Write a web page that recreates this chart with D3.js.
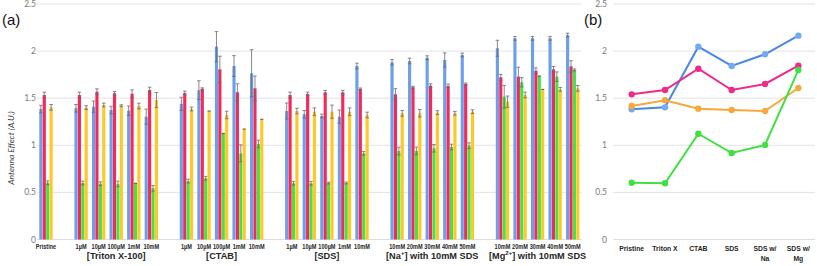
<!DOCTYPE html>
<html><head><meta charset="utf-8">
<script src="https://cdn.jsdelivr.net/npm/d3@7"></script>
<style>body{margin:0;background:#fff}svg{display:block}</style>
</head><body>
<script>
// ---------- Data (panel a) ----------
const sectionNames = ["", "[Triton X-100]", "[CTAB]", "[SDS]", "[Na+] with 10mM SDS", "[Mg2+] with 10mM SDS"];
const sectionCats = [
  ["Pristine"],
  ["1µM","10µM","100µM","1mM","10mM"],
  ["1µM","10µM","100µM","1mM","10mM"],
  ["1µM","10µM","100µM","1mM","10mM"],
  ["10mM","20mM","30mM","40mM","50mM"],
  ["10mM","20mM","30mM","40mM","50mM"]
];
const seriesNames = ["blue","red","green","yellow"];
const blueVals   = [1.385, 1.393,1.41,1.375,1.367,1.304, 1.44,1.585,2.047,1.842,1.764, 1.364,1.329,1.311,1.304,1.842, 1.881,1.895,1.93,1.906,1.959, 2.03,2.136,2.136,2.136,2.17];
const blueErr    = [0.04, 0.04,0.06,0.04,0.05,0.08, 0.07,0.10,0.16,0.11,0.25, 0.085,0.04,0.02,0.07,0.03, 0.03,0.03,0.02,0.075,0.02, 0.085,0.02,0.02,0.02,0.02];
const redVals    = [1.534, 1.534,1.569,1.552,1.548,1.587, 1.555,1.6,1.806,1.563,1.605, 1.534,1.545,1.563,1.563,1.598, 1.541,1.616,1.633,1.63,1.651, 1.722,1.729,1.792,1.806,1.838];
const redErr     = [0.03, 0.03,0.03,0.02,0.04,0.03, 0.02,0.01,0.14,0.09,0.13, 0.03,0.02,0.02,0.02,0.01, 0.06,0.01,0.02,0.02,0.01, 0.03,0.10,0.03,0.03,0.06];
const greenVals  = [0.603, 0.6,0.592,0.59,0.597,0.543, 0.62,0.65,1.127,0.915,1.014, 0.597,0.597,0.6,0.6,0.915, 0.94,0.94,0.968,0.982,0.996, 1.516,1.669,1.736,1.729,1.80];
const greenErr   = [0.02, 0.02,0.02,0.03,0,0.03, 0.02,0.02,0,0.09,0.04, 0.02,0.02,0.01,0.01,0.02, 0.04,0.04,0.04,0.03,0.03, 0.12,0.05,0,0.05,0.01];
const yellowVals = [1.403, 1.40,1.428,1.42,1.417,1.48, 1.385,1.364,1.322,1.173,1.276, 1.364,1.357,1.357,1.357,1.322, 1.34,1.34,1.347,1.34,1.357, 1.463,1.534,1.594,1.594,1.605];
const yellowErr  = [0.03, 0.02,0.02,0.01,0.03,0.08, 0.02,0,0.04,0,0, 0.03,0.04,0.07,0.04,0.03, 0.03,0.04,0.02,0.02,0.02, 0.06,0.03,0,0.02,0.03];
const yTicks = [0, 0.5, 1, 1.5, 2, 2.5];
const yTickLabels = ["0","0.5","1","1.5","2","2.5"];

// ---------- Data (panel b) ----------
const lineCats = [["Pristine"],["Triton X"],["CTAB"],["SDS"],["SDS w/","Na"],["SDS w/","Mg"]];
const lineBlue   = [1.382,1.403,2.047,1.842,1.966,2.164];
const linePink   = [1.541,1.587,1.813,1.587,1.651,1.845];
const lineOrange = [1.417,1.478,1.389,1.375,1.364,1.608];
const lineGreen  = [0.603,0.597,1.123,0.918,1.003,1.799];

// ---------- Build ----------
const W = 817, H = 266;
const svg = d3.select("body").append("svg").attr("width", W).attr("height", H);
const barColors = {blue:"#6d9eeb", red:"#f2295b", green:"#44e344", yellow:"#ffc825"};
const vals = {blue:blueVals, red:redVals, green:greenVals, yellow:yellowVals};
const errs = {blue:blueErr, red:redErr, green:greenErr, yellow:yellowErr};

const slots = [];
let di = 0;
sectionCats.forEach((cats, s) => {
  if (s > 0) slots.push({key:"gap"+s, blank:true});
  cats.forEach((c, j) => { slots.push({key:"s"+s+"c"+j, label:c, section:s, di:di++}); });
});

const y = d3.scaleLinear().domain([0, 2.5]).range([239.5, 4]);
const x0 = d3.scaleBand().domain(slots.map(d => d.key)).range([37.2, 581.5]).padding(0);
const x1 = d3.scaleBand().domain(seriesNames).range([0, x0.bandwidth()]).paddingInner(0.08).paddingOuter(0.62);

const font = "Lato, 'Liberation Sans', Arial, sans-serif";
const boldFont = "'Liberation Sans', Arial, sans-serif";

const ga = svg.append("g");
ga.selectAll("line.grid").data(yTicks).join("line")
  .attr("x1", 37).attr("x2", 581.5)
  .attr("y1", d => y(d)).attr("y2", d => y(d))
  .attr("stroke", d => d === 0 ? "#e6d9dc" : "#e3e3e3").attr("stroke-width", 1);
ga.selectAll("text.tick").data(yTicks).join("text")
  .attr("x", 36).attr("y", d => y(d) + 3)
  .attr("text-anchor", "end").attr("font-family", font).attr("font-size", 8.5)
  .attr("fill", "#7a7a7a").text((d, i) => yTickLabels[i]);

const dataSlots = slots.filter(d => !d.blank);
const gBars = svg.append("g");
dataSlots.forEach(sl => {
  seriesNames.forEach(sn => {
    const v = vals[sn][sl.di], e = errs[sn][sl.di];
    const bx = x0(sl.key) + x1(sn), bw = x1.bandwidth();
    gBars.append("rect").attr("x", bx).attr("y", y(v)).attr("width", bw).attr("height", y(0) - y(v))
      .attr("fill", barColors[sn]);
    const cx = bx + bw / 2;
    if (e > 0) {
      gBars.append("line").attr("x1", cx).attr("x2", cx).attr("y1", y(v + e)).attr("y2", y(v - e))
        .attr("stroke", "#6b6b6b").attr("stroke-width", 0.8);
      [v + e, v - e].forEach(t => gBars.append("line").attr("x1", cx - 1.8).attr("x2", cx + 1.8)
        .attr("y1", y(t)).attr("y2", y(t)).attr("stroke", "#6b6b6b").attr("stroke-width", 0.8));
    } else {
      gBars.append("line").attr("x1", bx).attr("x2", bx + bw).attr("y1", y(v)).attr("y2", y(v))
        .attr("stroke", "#333").attr("stroke-width", 0.8);
    }
  });
});

// category labels (condensed)
svg.append("g").selectAll("text").data(dataSlots).join("text")
  .attr("transform", d => `translate(${x0(d.key) + x0.bandwidth() / 2},249) scale(0.8,1)`)
  .attr("text-anchor", "middle").attr("font-family", boldFont)
  .attr("font-weight", "bold").attr("font-size", 7).attr("fill", "#262626")
  .text(d => d.label);

sectionNames.forEach((name, s) => {
  if (!name) return;
  const ss = dataSlots.filter(d => d.section === s);
  const cx = (x0(ss[0].key) + x0(ss[ss.length - 1].key) + x0.bandwidth()) / 2;
  const t = svg.append("text").attr("x", cx).attr("y", 258.5).attr("text-anchor", "middle")
    .attr("font-family", boldFont).attr("font-weight", "bold")
    .attr("font-size", 9.2).attr("fill", "#262626");
  const m = name.match(/^\[(Na|Mg)(2\+|\+)\](.*)$/);
  if (m) {
    t.append("tspan").text("[" + m[1]);
    t.append("tspan").attr("font-size", 6).attr("dy", -3.5).text(m[2]);
    t.append("tspan").attr("dy", 3.5).text("]" + m[3]);
  } else t.text(name);
});

svg.append("text").attr("transform", "translate(14,148) rotate(-90)")
  .attr("text-anchor", "middle").attr("font-family", font).attr("font-style", "italic")
  .attr("font-size", 8.5).attr("fill", "#404040").text("Antenna Effect (A.U.)");

svg.append("text").attr("x", 2).attr("y", 25).attr("font-family", boldFont)
  .attr("font-size", 15).attr("fill", "#111").text("(a)");
svg.append("text").attr("x", 584).attr("y", 25).attr("font-family", boldFont)
  .attr("font-size", 15).attr("fill", "#111").text("(b)");

// ---------- Panel b ----------
const xb = d3.scalePoint().domain(lineCats.map((d, i) => i)).range([615, 815]).padding(0.5);
const gb = svg.append("g");
gb.selectAll("line").data(yTicks).join("line")
  .attr("x1", 613).attr("x2", 815).attr("y1", d => y(d)).attr("y2", d => y(d))
  .attr("stroke", d => d === 0 ? "#e6d9dc" : "#e3e3e3");
gb.selectAll("text").data(yTicks).join("text")
  .attr("x", 607).attr("y", d => y(d) + 3).attr("text-anchor", "end")
  .attr("font-family", font).attr("font-size", 8.5).attr("fill", "#7a7a7a")
  .text((d, i) => yTickLabels[i]);

const lineSeries = [
  {vals: lineBlue, stroke: "#4a86e8", fill: "#74a9f4"},
  {vals: linePink, stroke: "#ee2a8a", fill: "#ee2a8a"},
  {vals: lineOrange, stroke: "#f7a83a", fill: "#f7a83a"},
  {vals: lineGreen, stroke: "#3fe03f", fill: "#3fe03f"}
];
const lineGen = d3.line().x((d, i) => xb(i)).y(d => y(d));
lineSeries.forEach(s => {
  gb.append("path").attr("d", lineGen(s.vals)).attr("fill", "none")
    .attr("stroke", s.stroke).attr("stroke-width", 2);
  gb.selectAll(null).data(s.vals).join("circle")
    .attr("cx", (d, i) => xb(i)).attr("cy", d => y(d)).attr("r", 3.2).attr("fill", s.fill);
});

lineCats.forEach((lines, i) => {
  const t = gb.append("text").attr("x", xb(i)).attr("y", 251).attr("text-anchor", "middle")
    .attr("font-family", boldFont).attr("font-weight", "bold")
    .attr("font-size", 6.8).attr("fill", "#262626");
  lines.forEach((l, k) => t.append("tspan").attr("x", xb(i)).attr("dy", k === 0 ? 0 : 9.5).text(l));
});
</script>
</body></html>
